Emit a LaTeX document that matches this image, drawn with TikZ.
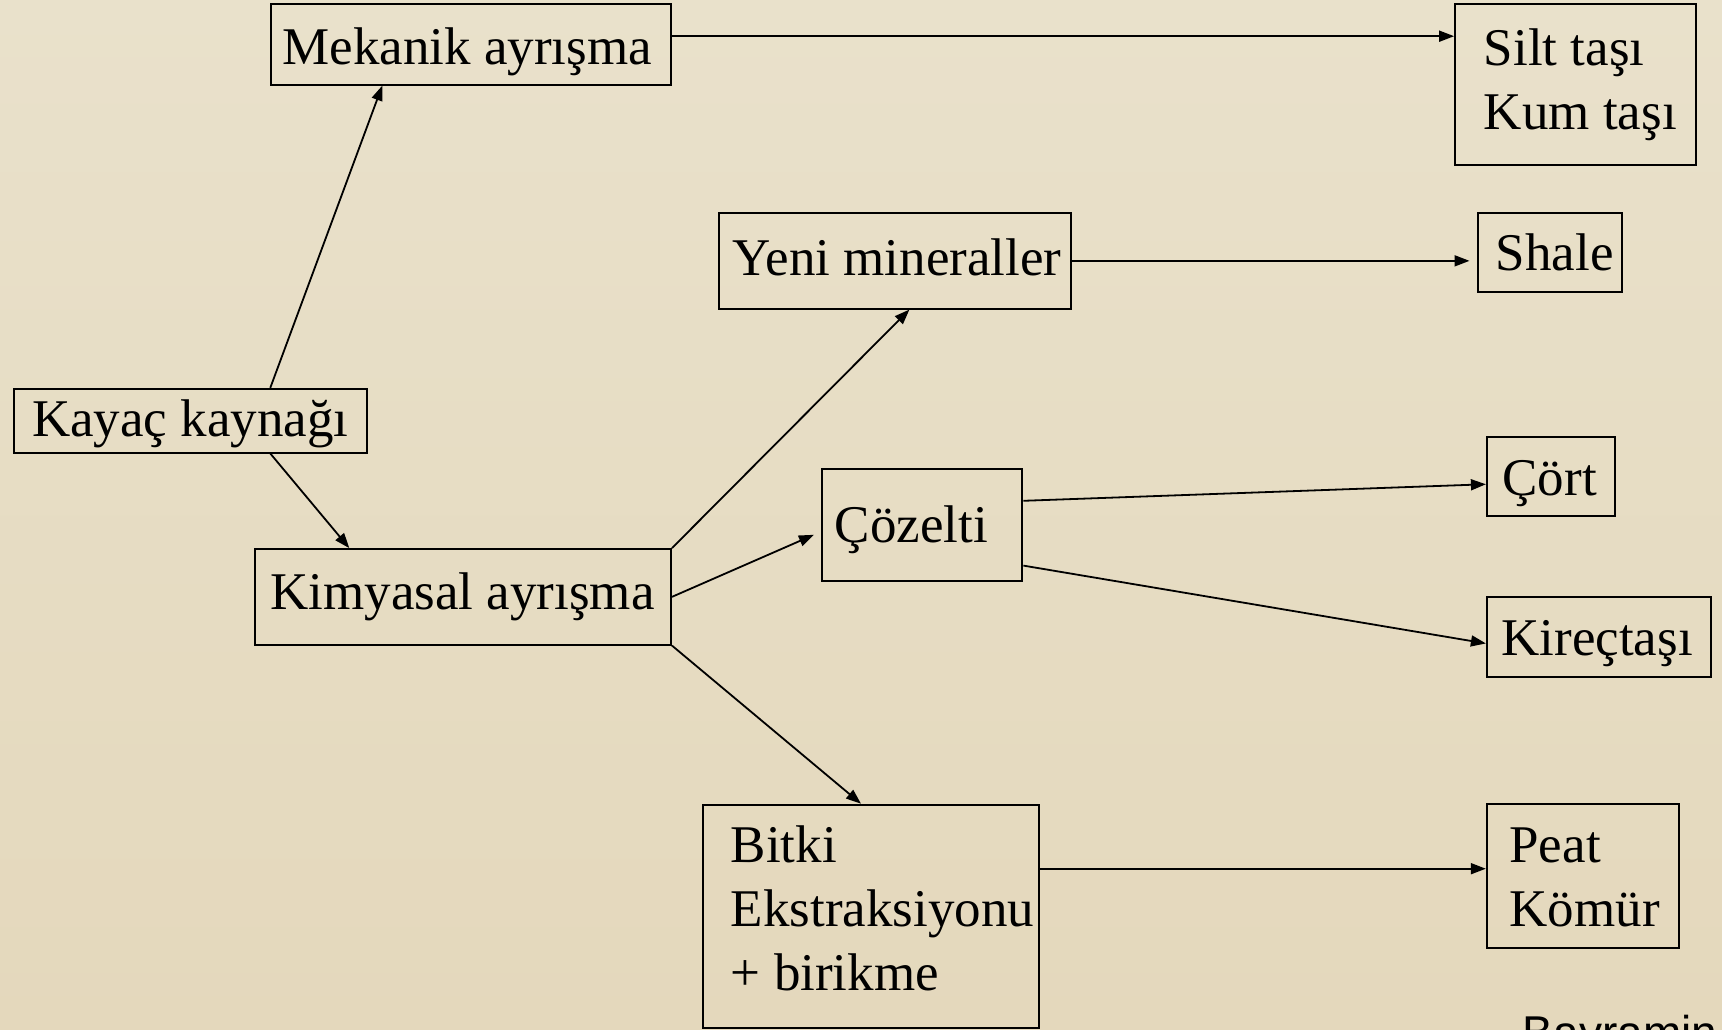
\documentclass[tikz,border=0pt]{standalone}
\usepackage{fontspec}
\setmainfont{Liberation Serif}
\newfontfamily\sansf{Liberation Sans}
\usetikzlibrary{arrows.meta}
\begin{document}
\begin{tikzpicture}[x=1pt,y=-1pt,
  box/.style={draw=black,line width=2pt,inner sep=0pt,rectangle},
  txt/.style={anchor=base west,inner sep=0pt,font=\fontsize{53}{64}\selectfont},
  arr/.style={line width=1.8pt,-{Triangle[length=15pt,width=11pt]}}]
\useasboundingbox (0,0) rectangle (1722,1030);
\fill[top color={rgb,255:red,233;green,225;blue,203}, bottom color={rgb,255:red,228;green,216;blue,188}] (0,0) rectangle (1722,1030);
\clip (0,0) rectangle (1722,1030);
% boxes
\node[box,minimum width=399.7pt,minimum height=80.2pt] (mek) at (471.15,44.5) {};
\node[box,minimum width=240.5pt,minimum height=160.3pt] (silt) at (1575.35,84.55) {};
\node[box,minimum width=351.4pt,minimum height=95.5pt] (yeni) at (895,260.85) {};
\node[box,minimum width=143.8pt,minimum height=79pt] (shale) at (1550.1,252.6) {};
\node[box,minimum width=352.5pt,minimum height=63.7pt] (kayac) at (190.55,420.65) {};
\node[box,minimum width=200.9pt,minimum height=112pt] (coz) at (921.95,524.9) {};
\node[box,minimum width=128.5pt,minimum height=79.1pt] (cort) at (1551.15,476.65) {};
\node[box,minimum width=416.2pt,minimum height=95.5pt] (kim) at (462.9,596.85) {};
\node[box,minimum width=224.1pt,minimum height=79.1pt] (kirec) at (1598.95,636.95) {};
\node[box,minimum width=336.2pt,minimum height=223.6pt] (bitki) at (870.9,916.5) {};
\node[box,minimum width=192.4pt,minimum height=143.4pt] (peat) at (1583,876) {};
% texts
\node[txt] (tmek) at (282.2,65) {Mekanik ayrışma};
\node[txt] (tsilt) at (1483.7,65.9) {Silt taşı};
\node[txt] (tkum) at (1483.7,129.6) {Kum taşı};
\node[txt] (tyeni) at (732.5,275.6) {Yeni mineraller};
\node[txt] (tshale) at (1495.7,270.2) {Shale};
\node[txt] (tkayac) at (31.8,436) {Kayaç kaynağı};
\node[txt] (tcoz) at (834.6,542.5) {Çözelti};
\node[txt] (tcort) at (1502.3,495.3) {Çört};
\node[txt] (tkim) at (270.2,609.5) {Kimyasal ayrışma};
\node[txt] (tkirec) at (1501.2,655.6) {Kireçtaşı};
\node[txt] (tbitki) at (730.7,862) {Bitki};
\node[txt] (tekst) at (730.7,926) {Ekstraksiyonu};
\node[txt] (tbirik) at (730.7,990) {+ birikme};
\node[txt] (tpeat) at (1509.3,862.7) {Peat};
\node[txt] (tkomur) at (1509.3,926.7) {Kömür};
\node[anchor=base west,inner sep=0pt,font=\sansf\fontsize{46}{54}\selectfont] (bay) at (1522.7,1048) {Bayramin};
% connectors
\draw[arr] ([xshift=257pt]kayac.north west) -- ([xshift=112pt]mek.south west);
\draw[arr] ([xshift=257pt]kayac.south west) -- ([xshift=95.5pt]kim.north west);
\draw[arr] ([yshift=8.3pt]mek.east) -- ([yshift=8.3pt]mek.east -| silt.west);
\draw[arr] (kim.north east) -- ([xshift=191.1pt]yeni.south west);
\draw[arr] (kim.east) -- ([xshift=-6.6pt,yshift=-9.9pt]coz.west);
\draw[arr] (kim.south east) -- ([xshift=159.2pt]bitki.north west);
\draw[arr] (yeni.east) -- ([xshift=-7.7pt]yeni.east -| shale.west);
\draw[arr] ([yshift=24.1pt]coz.east) -- ([yshift=-7.6pt]cort.west);
\draw[arr] ([yshift=-40.7pt]coz.east) -- ([yshift=-6.5pt]kirec.west);
\draw[arr] ([yshift=47.8pt]bitki.east) -- ([yshift=47.8pt]bitki.east -| peat.west);
\end{tikzpicture}
\end{document}
